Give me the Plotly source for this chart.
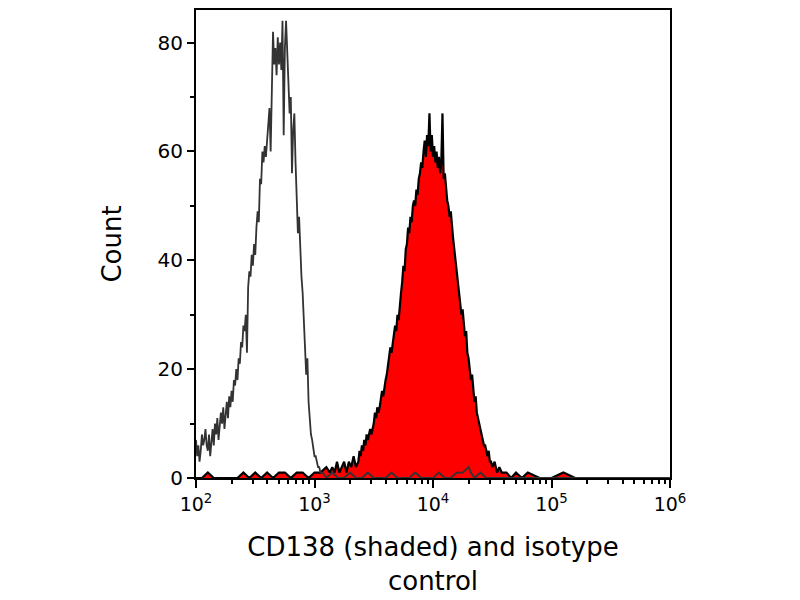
import plotly.graph_objects as go

# isotype control histogram (log10 of intensity, count)
iso_log = [2.00, 2.01, 2.02, 2.03, 2.04, 2.05, 2.06, 2.07, 2.08, 2.09,
           2.10, 2.11, 2.12, 2.13, 2.14, 2.15, 2.16, 2.17, 2.18, 2.19,
           2.20, 2.21, 2.22, 2.23, 2.24, 2.25, 2.26, 2.27, 2.28, 2.29,
           2.30, 2.31, 2.32, 2.33, 2.34, 2.35, 2.36, 2.37, 2.38, 2.39,
           2.40, 2.41, 2.42, 2.43, 2.44, 2.45, 2.46, 2.47, 2.48, 2.49,
           2.50, 2.51, 2.52, 2.53, 2.54, 2.55, 2.56, 2.57, 2.58, 2.59,
           2.60, 2.61, 2.62, 2.63, 2.64, 2.65, 2.66, 2.67, 2.68, 2.69,
           2.70, 2.71, 2.72, 2.73, 2.74, 2.75, 2.76, 2.77, 2.78, 2.79,
           2.80, 2.81, 2.82, 2.83, 2.84, 2.85, 2.86, 2.87, 2.88, 2.89,
           2.90, 2.91, 2.92, 2.93, 2.94, 2.95, 2.96, 2.97, 2.98, 2.99,
           3.00, 3.01, 3.02, 3.03, 3.04, 3.05, 3.07, 3.10, 3.15, 3.20,
           3.25, 3.30, 3.35, 3.40, 3.45, 3.50, 3.55, 3.60, 3.65, 3.70,
           3.75, 3.80, 3.85, 3.90, 3.95, 4.00, 4.05, 4.10, 4.15, 4.20,
           4.25, 4.30, 4.32, 4.35, 4.40, 4.45, 4.50, 4.55, 5.00, 5.50, 6.00]
iso_count = [7, 4, 6, 3, 5, 8, 6, 7, 9, 6,
             5, 8, 4, 7, 9, 6, 10, 8, 11, 7,
             9, 12, 10, 13, 9, 12, 14, 11, 15, 13,
             16, 14, 18, 17, 20, 18, 22, 21, 25, 24,
             28, 27, 30, 23, 35, 38, 37, 41, 39, 43,
             41, 46, 49, 47, 55, 54, 60, 58, 61, 59,
             62, 66, 68, 60, 70, 82, 76, 79, 74, 81,
             76, 80, 75, 84, 63, 79, 84, 78, 71, 67,
             70, 56, 64, 67, 58, 50, 45, 48, 42, 37,
             34, 30, 24, 19, 22, 14, 10, 8, 7, 5,
             4, 4, 3, 2, 2, 1, 1, 0, 1, 0,
             0, 1, 0, 0, 1, 0, 0, 0, 1, 0,
             0, 0, 1, 0, 0, 0, 1, 0, 0, 1,
             1, 2, 1, 0, 1, 0, 0, 0, 0, 0, 0]

# CD138 stained histogram (log10 of intensity, count)
cd_log = [2.00, 2.05, 2.10, 2.15, 2.20, 2.25, 2.30, 2.35, 2.40, 2.45,
          2.50, 2.55, 2.60, 2.65, 2.70, 2.75, 2.80, 2.85, 2.90, 2.95,
          3.00, 3.05, 3.10, 3.13, 3.15, 3.17, 3.19, 3.21, 3.23, 3.25,
          3.27, 3.29, 3.31, 3.33, 3.35, 3.37, 3.38, 3.39,
          3.40, 3.41, 3.42, 3.43, 3.44, 3.45, 3.46, 3.47, 3.48, 3.49,
          3.50, 3.51, 3.52, 3.53, 3.54, 3.55, 3.56, 3.57, 3.58, 3.59,
          3.60, 3.61, 3.62, 3.63, 3.64, 3.65, 3.66, 3.67, 3.68, 3.69,
          3.70, 3.71, 3.72, 3.73, 3.74, 3.75, 3.76, 3.77, 3.78, 3.79,
          3.80, 3.81, 3.82, 3.83, 3.84, 3.85, 3.86, 3.87, 3.88, 3.89,
          3.90, 3.91, 3.92, 3.93, 3.94, 3.95, 3.96, 3.97, 3.98, 3.99,
          4.00, 4.01, 4.02, 4.03, 4.04, 4.05, 4.06, 4.07, 4.08, 4.09,
          4.10, 4.11, 4.12, 4.13, 4.14, 4.15, 4.16, 4.17, 4.18, 4.19,
          4.20, 4.21, 4.22, 4.23, 4.24, 4.25, 4.26, 4.27, 4.28, 4.29,
          4.30, 4.31, 4.32, 4.33, 4.34, 4.35, 4.36, 4.37, 4.38, 4.39,
          4.40, 4.41, 4.42, 4.43, 4.44, 4.45, 4.46, 4.47, 4.48, 4.49,
          4.50, 4.52, 4.54, 4.56, 4.58, 4.62, 4.66, 4.70, 4.75, 4.80,
          4.90, 5.00, 5.10, 5.20, 6.00]
cd_count = [0, 0, 1, 0, 0, 0, 0, 0, 1, 0,
            1, 0, 1, 0, 1, 1, 0, 1, 1, 0,
            1, 1, 2, 1, 2, 1, 3, 1, 2, 3,
            1, 3, 2, 4, 2, 3, 5, 4,
            6, 5, 7, 6, 8, 7, 8, 9, 8, 9,
            10, 12, 11, 13, 12, 13, 15, 16, 15, 17,
            18, 19, 21, 22, 24, 23, 25, 27, 28, 27,
            30, 29, 32, 34, 36, 39, 38, 42, 43, 46,
            45, 48, 47, 50, 51, 50, 53, 52, 55, 56,
            58, 57, 60, 62, 59, 63, 61, 67, 60, 63,
            59, 61, 58, 60, 57, 59, 56, 58, 67, 55,
            56, 53, 51, 50, 48, 49, 46, 44, 42, 40,
            38, 37, 35, 33, 30, 31, 28, 26, 27, 23,
            22, 20, 18, 19, 16, 14, 15, 12, 11, 10,
            9, 8, 7, 6, 6, 5, 4, 5, 3, 3,
            2, 3, 1, 2, 1, 1, 0, 1, 0, 1,
            0, 0, 1, 0, 0]

iso_x = [10 ** v for v in iso_log]
cd_x = [10 ** v for v in cd_log]

font = "DejaVu Sans"

fig = go.Figure()
fig.add_trace(go.Scatter(x=cd_x, y=cd_count, mode="lines", fill="tozeroy",
                         fillcolor="#ff0000", line=dict(color="black", width=2.2),
                         showlegend=False))
fig.add_trace(go.Scatter(x=iso_x, y=iso_count, mode="lines",
                         line=dict(color="#333333", width=1.8),
                         showlegend=False))

fig.update_xaxes(type="log", range=[2, 6],
                 tickvals=[1e2, 1e3, 1e4, 1e5, 1e6],
                 ticktext=["10<sup>2</sup>", "10<sup>3</sup>", "10<sup>4</sup>",
                           "10<sup>5</sup>", "10<sup>6</sup>"],
                 ticks="outside", ticklen=8, tickwidth=2, tickcolor="black",
                 minor=dict(ticks="outside", ticklen=4, tickwidth=2, tickcolor="black", dtick="D1"),
                 showline=True, linecolor="black", linewidth=2, mirror=True,
                 showgrid=False, zeroline=False,
                 tickfont=dict(size=19, color="black", family=font),
                 title=dict(text="CD138 (shaded) and isotype<br>control",
                            font=dict(size=26, color="black", family=font), standoff=24))
fig.update_yaxes(range=[0, 86.0], tickvals=[0, 20, 40, 60, 80],
                 ticks="outside", ticklen=7, tickwidth=2, tickcolor="black",
                 minor=dict(ticks="outside", ticklen=4, tickwidth=2, tickcolor="black", dtick=10),
                 showline=True, linecolor="black", linewidth=2, mirror=True,
                 showgrid=False, zeroline=False,
                 tickfont=dict(size=20, color="black", family=font),
                 title=dict(text="Count", font=dict(size=26, color="black", family=font), standoff=28))

# page is drawn with an 8px body margin, so the plot box is shifted back here
fig.update_layout(width=800, height=600, plot_bgcolor="white", paper_bgcolor="white",
                  margin=dict(l=188, r=138, t=0, b=130))

fig.write_html("out.html")
